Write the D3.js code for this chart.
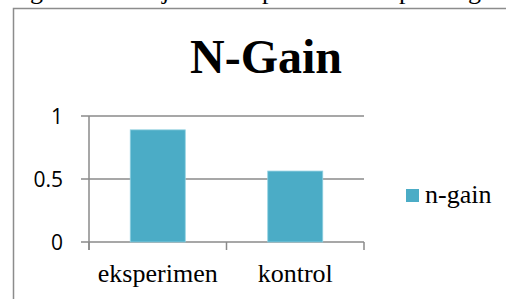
<!DOCTYPE html>
<html>
<head>
<meta charset="utf-8">
<title>N-Gain</title>
<script src="https://cdn.jsdelivr.net/npm/d3@7"></script>
<style type="text/css">
body { margin: 0; background: #fff; }
svg { display: block; }
</style>
</head>
<body>
<div id="chart"></div>
<script type="text/javascript">
// data
var categories = ["eksperimen", "kontrol"];
var ngain = [0.89, 0.563];
var yTicks = [0, 0.5, 1];
var yTickLabels = ["0", "0.5", "1"];
var seriesName = "n-gain";
var title = "N-Gain";
// descenders of the document line cut off above the chart
var strayGlyphs = ["g", "j", "p", "p", "g"];
var strayX = [30, 162, 262, 399, 468];

var SERIF = "'Liberation Serif', 'DejaVu Serif', 'Times New Roman', serif";
var SANS = "'Open Sans', 'Noto Sans', sans-serif";

var W = 506, H = 299;
var svg = d3.select("#chart").append("svg").attr("width", W).attr("height", H);

/* text line above the chart, only descenders visible */
svg.selectAll("text.stray").data(strayGlyphs).enter().append("text")
  .attr("x", function(d, i) { return strayX[i]; })
  .attr("y", -1)
  .style("font-family", SERIF).style("font-size", "26px")
  .text(function(d) { return d; });

/* chart frame */
svg.append("path")
  .attr("d", "M13.5," + H + "V8.5H" + W)
  .attr("fill", "none").attr("stroke", "#8c8c8c").attr("stroke-width", 1.5);

svg.append("text")
  .attr("x", 266).attr("y", 73)
  .attr("text-anchor", "middle")
  .style("font-family", SERIF).style("font-size", "48px").style("font-weight", "bold")
  .text(title);

var x = d3.scaleBand().domain(categories).range([89, 364]).padding(0);
var y = d3.scaleLinear().domain([0, 1]).range([242, 116]);

var grid = "#8a8a8a";
// gridlines + y ticks
svg.selectAll("line.grid").data(yTicks).enter().append("line")
  .attr("x1", 81).attr("x2", 364)
  .attr("y1", function(d) { return y(d); }).attr("y2", function(d) { return y(d); })
  .attr("stroke", grid).attr("stroke-width", 1.5);

// y axis line
svg.append("line").attr("x1", 89).attr("x2", 89).attr("y1", y(1)).attr("y2", 250)
  .attr("stroke", grid).attr("stroke-width", 1.5);

// x ticks
var xt = x.domain().map(function(d) { return x(d); }).concat([x.range()[1]]);
svg.selectAll("line.xt").data(xt).enter().append("line")
  .attr("x1", function(d) { return d; }).attr("x2", function(d) { return d; })
  .attr("y1", y(0)).attr("y2", 250)
  .attr("stroke", grid).attr("stroke-width", 1.5);

svg.selectAll("text.yl").data(yTicks).enter().append("text")
  .attr("x", 63).attr("y", function(d) { return y(d); })
  .attr("dy", "0.36em").attr("text-anchor", "end")
  .style("font-family", SANS).style("font-size", "21px")
  .text(function(d, i) { return yTickLabels[i]; });

// bars
var bw = x.bandwidth() * 0.4;
svg.selectAll("rect.bar").data(ngain).enter().append("rect")
  .attr("x", function(d, i) { return x(categories[i]) + x.bandwidth() / 2 - bw / 2; })
  .attr("y", function(d) { return y(d); })
  .attr("width", bw)
  .attr("height", function(d) { return y(0) - y(d); })
  .attr("fill", "#4bacc6").attr("stroke", "#8fd0e0").attr("stroke-width", 0.8);

svg.selectAll("text.xl").data(categories).enter().append("text")
  .attr("x", function(d) { return x(d) + x.bandwidth() / 2; })
  .attr("y", 282)
  .attr("text-anchor", "middle")
  .style("font-family", SERIF).style("font-size", "26px")
  .text(function(d) { return d; });

// legend
svg.append("rect").attr("x", 406).attr("y", 189).attr("width", 13).attr("height", 13)
  .attr("fill", "#4bacc6");
svg.append("text")
  .attr("x", 425).attr("y", 203)
  .style("font-family", SERIF).style("font-size", "26px")
  .text(seriesName);
</script>
</body>
</html>
